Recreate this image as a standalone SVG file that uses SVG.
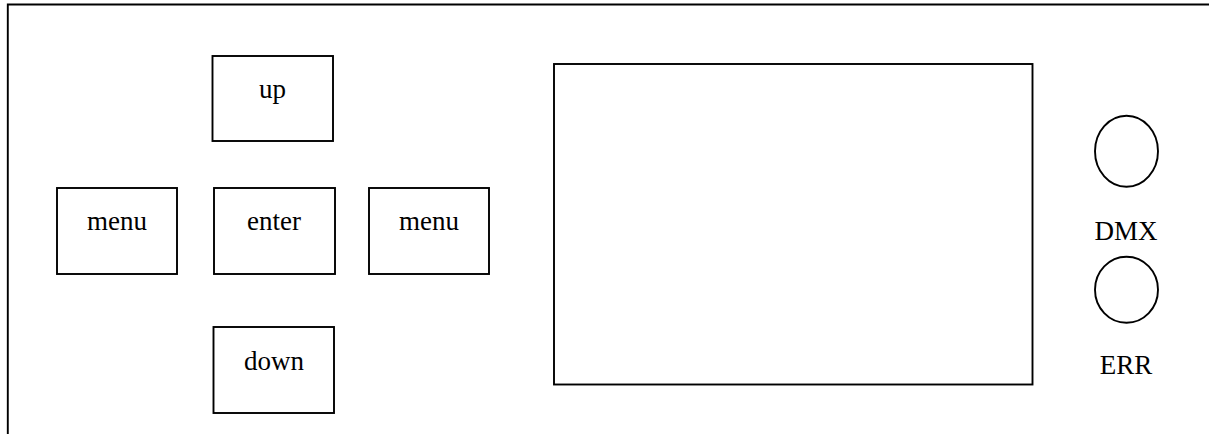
<svg xmlns="http://www.w3.org/2000/svg" width="1209" height="434" viewBox="0 0 1209 434">
  <style>
    .box { fill: #fff; stroke: #000; stroke-width: 1.9; }
    .lbl { font-family: "Liberation Serif", "Times New Roman", serif; font-size: 27px; fill: #000; text-anchor: middle; }
  </style>
  <rect width="1209" height="434" fill="#fff"/>
  <g id="frame">
    <path d="M1209,4.5 H7.8 V434" fill="none" stroke="#000" stroke-width="1.9"/>
  </g>
  <g id="up">
    <rect class="box" x="212.5" y="56" width="120.5" height="85"/>
    <text class="lbl" x="272.5" y="98">up</text>
  </g>
  <g id="menu-left">
    <rect class="box" x="57" y="188" width="120" height="86"/>
    <text class="lbl" x="117" y="230">menu</text>
  </g>
  <g id="enter">
    <rect class="box" x="214" y="188" width="121" height="86"/>
    <text class="lbl" x="274" y="230">enter</text>
  </g>
  <g id="menu-right">
    <rect class="box" x="369" y="188" width="120" height="86"/>
    <text class="lbl" x="429" y="230">menu</text>
  </g>
  <g id="down">
    <rect class="box" x="213.5" y="327" width="120.5" height="86"/>
    <text class="lbl" x="274" y="370">down</text>
  </g>
  <g id="screen">
    <rect class="box" x="554" y="64" width="478.5" height="320.5"/>
  </g>
  <g id="dmx">
    <ellipse class="box" cx="1126.5" cy="151.2" rx="31.5" ry="35.5"/>
    <text class="lbl" x="1126" y="240">DMX</text>
  </g>
  <g id="err">
    <ellipse class="box" cx="1126.5" cy="289.7" rx="31.5" ry="33"/>
    <text class="lbl" x="1126" y="374">ERR</text>
  </g>
  <g id="connectors"/>
</svg>
